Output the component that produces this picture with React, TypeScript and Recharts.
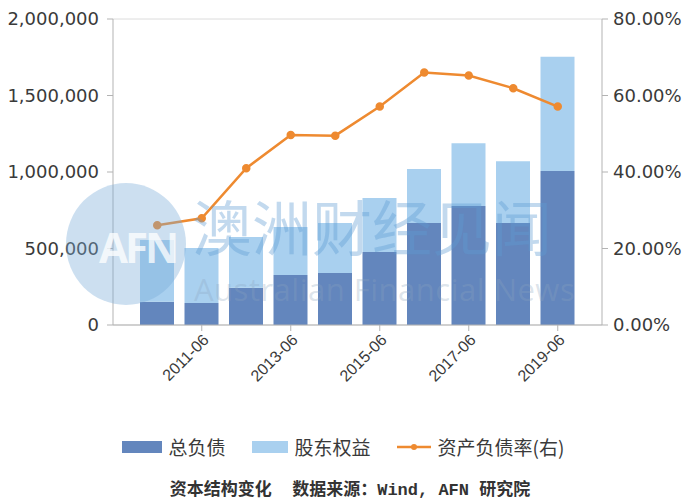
import {
  ComposedChart,
  Bar,
  Line,
  XAxis,
  YAxis,
  CartesianGrid,
} from "recharts";

const periods = [
  "2010-06",
  "2011-06",
  "2012-06",
  "2013-06",
  "2014-06",
  "2015-06",
  "2016-06",
  "2017-06",
  "2018-06",
  "2019-06",
];
const labeledPeriods = ["2011-06", "2013-06", "2015-06", "2017-06", "2019-06"];

// 总负债 (bottom of the stack)
const totalDebt = [152000, 144000, 243000, 327000, 340000, 477000, 667000, 778000, 667000, 1006000];
// 股东权益 (top of the stack)
const equity = [404000, 359000, 332000, 313000, 327000, 353000, 353000, 410000, 403000, 748000];
// 资产负债率 (right axis)
const debtRatio = [0.261, 0.279, 0.41, 0.497, 0.495, 0.571, 0.66, 0.652, 0.619, 0.571];

const leftTicks = [0, 500000, 1000000, 1500000, 2000000];
const rightTicks = [0, 0.2, 0.4, 0.6, 0.8];

const data = periods.map((p, i) => ({
  period: p,
  debt: totalDebt[i],
  equity: equity[i],
  ratio: debtRatio[i],
}));

const DARK = "#6386bd";
const LIGHT = "#a9d0ef";
const ORANGE = "#ee8a30";
const TEXT = "#3a3a3a";
const AXIS = "#b3b3b3";

const fmtLeft = (v: number) => v.toLocaleString("en-US");
const fmtRight = (v: number) => (v * 100).toFixed(2) + "%";

function LegendRow() {
  const item = { display: "flex", alignItems: "center" } as const;
  return (
    <div
      style={{
        position: "absolute",
        top: 433,
        left: 0,
        width: 700,
        display: "flex",
        justifyContent: "center",
        gap: 26,
        fontFamily: "'Noto Sans CJK SC', sans-serif",
        fontSize: 19,
        color: TEXT,
        paddingRight: 14,
        boxSizing: "border-box",
      }}
    >
      <div style={item}>
        <span style={{ width: 40, height: 12, background: DARK, marginRight: 7 }} />
        总负债
      </div>
      <div style={item}>
        <span style={{ width: 36, height: 12, background: LIGHT, marginRight: 7 }} />
        股东权益
      </div>
      <div style={item}>
        <svg width={34} height={12} style={{ marginRight: 7 }}>
          <line x1={0} y1={6} x2={34} y2={6} stroke={ORANGE} strokeWidth={2.5} />
          <circle cx={17} cy={6} r={3} fill={ORANGE} />
        </svg>
        资产负债率(右)
      </div>
    </div>
  );
}

function Watermark() {
  return (
    <div style={{ position: "absolute", left: 0, top: 0, width: 700, height: 420, pointerEvents: "none" }}>
      <div
        style={{
          position: "absolute",
          left: 66,
          top: 183,
          width: 120,
          height: 122,
          borderRadius: "50%",
          background: "rgba(120,170,215,0.38)",
        }}
      />
      <div
        style={{
          position: "absolute",
          left: 99,
          top: 218,
          fontFamily: "'Open Sans', sans-serif",
          fontWeight: 700,
          fontSize: 42,
          color: "rgba(255,255,255,0.75)",
          letterSpacing: -3,
        }}
      >
        AFN
      </div>
      <div
        style={{
          position: "absolute",
          left: 192,
          top: 180,
          fontFamily: "'Noto Sans CJK SC', sans-serif",
          fontSize: 60,
          lineHeight: "90px",
          color: "rgba(95,155,210,0.38)",
        }}
      >
        澳洲财经见闻
      </div>
      <div
        style={{
          position: "absolute",
          left: 194,
          top: 268,
          fontFamily: "'Open Sans', sans-serif",
          fontSize: 31,
          color: "rgba(140,165,190,0.3)",
          letterSpacing: 0.5,
        }}
      >
        Australian Financial News
      </div>
    </div>
  );
}

export default function App() {
  return (
    <div style={{ position: "absolute", left: 0, top: 0, width: 700, height: 500, background: "#fff" }}>
      <ComposedChart
        width={700}
        height={420}
        data={data}
        margin={{ top: 19, right: 0, bottom: 15, left: 0 }}
      >
        <CartesianGrid vertical={false} stroke="#dcdcdc" />
        <XAxis
          dataKey="period"
          ticks={labeledPeriods}
          interval={0}
          padding={{ left: 22, right: 22 }}
          height={80}
          angle={-45}
          textAnchor="end"
          stroke={AXIS}
          tickSize={6}
          tick={{ fill: TEXT, fontSize: 16, fontFamily: "'Liberation Sans', sans-serif" }}
        />
        <YAxis
          yAxisId="left"
          width={113}
          domain={[0, 2000000]}
          ticks={leftTicks}
          tickFormatter={fmtLeft}
          stroke={AXIS}
          tickSize={6}
          tickMargin={8}
          tick={{ fill: TEXT, fontSize: 18, fontFamily: "'DejaVu Sans', sans-serif" }}
        />
        <YAxis
          yAxisId="right"
          orientation="right"
          width={98}
          domain={[0, 0.8]}
          ticks={rightTicks}
          tickFormatter={fmtRight}
          stroke={AXIS}
          tickSize={6}
          tickMargin={5}
          tick={{ fill: TEXT, fontSize: 18, fontFamily: "'DejaVu Sans', sans-serif" }}
        />
        <Bar yAxisId="left" dataKey="debt" stackId="a" fill={DARK} barSize={34} isAnimationActive={false} />
        <Bar yAxisId="left" dataKey="equity" stackId="a" fill={LIGHT} barSize={34} isAnimationActive={false} />
        <Line
          yAxisId="right"
          dataKey="ratio"
          stroke={ORANGE}
          strokeWidth={2.5}
          dot={{ r: 3, fill: ORANGE, stroke: ORANGE }}
          isAnimationActive={false}
        />
      </ComposedChart>
      <Watermark />
      <LegendRow />
      <div
        style={{
          position: "absolute",
          top: 475,
          left: 0,
          width: 700,
          textAlign: "center",
          fontFamily: "'Liberation Mono', 'Noto Sans CJK SC', monospace",
          fontWeight: 700,
          fontSize: 17,
          color: "#333",
          whiteSpace: "pre",
        }}
      >
        资本结构变化  数据来源：Wind, AFN 研究院
      </div>
    </div>
  );
}
